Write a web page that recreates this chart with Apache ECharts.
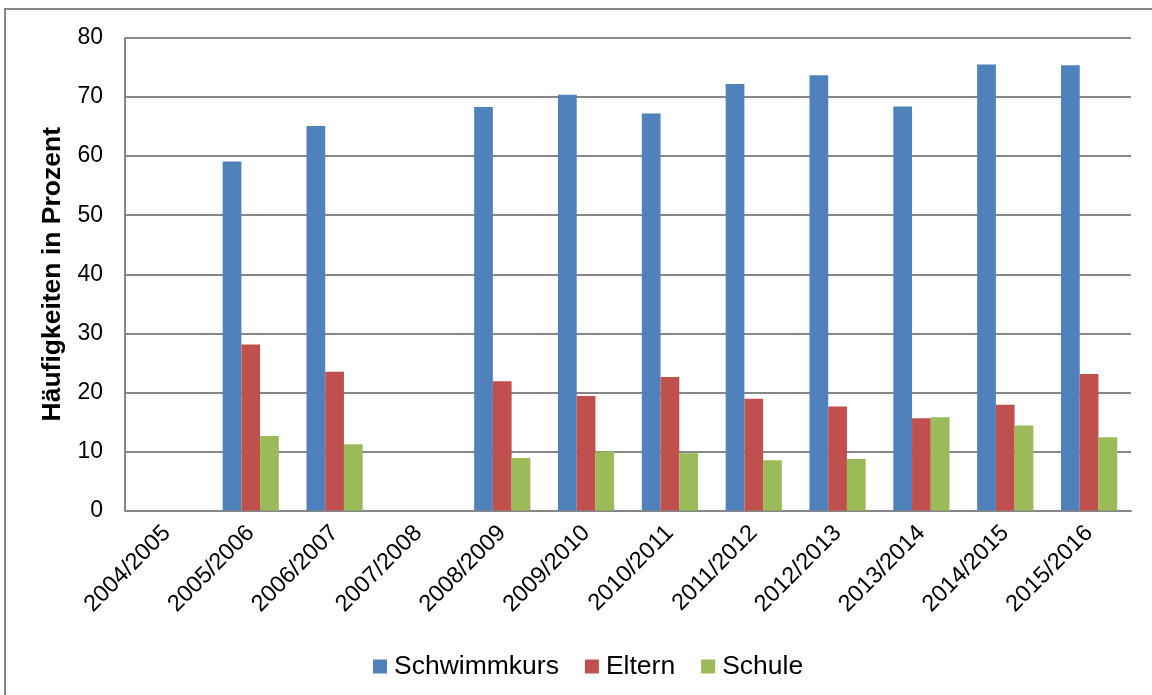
<!DOCTYPE html>
<html>
<head>
<meta charset="utf-8">
<script src="https://cdn.jsdelivr.net/npm/echarts@6/dist/echarts.min.js"></script>
<style>
  html, body { margin: 0; padding: 0; background: #fff; }
  #chart { width: 1152px; height: 695px; }
</style>
</head>
<body>
<div id="chart"></div>
<script>
// School years (x axis)
const years = ['2004/2005', '2005/2006', '2006/2007', '2007/2008', '2008/2009', '2009/2010',
               '2010/2011', '2011/2012', '2012/2013', '2013/2014', '2014/2015', '2015/2016'];

// Where children learned to swim, share in percent (no survey in 2004/05 and 2007/08)
const schwimmkurs = [null, 59.1, 65.1, null, 68.3, 70.4, 67.2, 72.2, 73.7, 68.4, 75.5, 75.4];
const eltern      = [null, 28.1, 23.5, null, 21.9, 19.4, 22.6, 18.9, 17.6, 15.6, 17.9, 23.1];
const schule      = [null, 12.6, 11.2, null,  8.9, 10.0,  9.7,  8.5,  8.7, 15.8, 14.4, 12.4];

const seriesNames = ['Schwimmkurs', 'Eltern', 'Schule'];
const seriesColors = ['#4F81BD', '#C0504D', '#9BBB59'];
const seriesData = [schwimmkurs, eltern, schule];

const yTicks = { min: 0, max: 80, interval: 10 };
const font = '"Liberation Sans", Arial, sans-serif';

const chart = echarts.init(document.getElementById('chart'), null, { renderer: 'canvas' });

chart.setOption({
  animation: false,
  backgroundColor: '#ffffff',
  graphic: [{
    type: 'rect',
    shape: { x: 5, y: 9, width: 1200, height: 720 },
    style: { fill: 'none', stroke: '#878787', lineWidth: 2 },
    silent: true,
    z: -1
  }],
  grid: { left: 125, right: 21, top: 38, bottom: 184.5, containLabel: false },
  legend: {
    data: seriesNames,
    top: 648,
    left: 368,
    itemWidth: 14,
    itemHeight: 14,
    itemGap: 26,
    icon: 'rect',
    textStyle: { fontFamily: font, fontSize: 26.5, color: '#000', padding: [0, 0, 0, 2] }
  },
  xAxis: {
    type: 'category',
    data: years,
    boundaryGap: true,
    axisLine: { show: true, lineStyle: { color: '#878787', width: 2 } },
    axisTick: { show: false },
    axisLabel: {
      rotate: 45,
      interval: 0,
      margin: 19,
      fontFamily: font,
      fontSize: 23.5,
      color: '#000'
    }
  },
  yAxis: {
    type: 'value',
    min: yTicks.min,
    max: yTicks.max,
    interval: yTicks.interval,
    name: 'Häufigkeiten in Prozent',
    nameLocation: 'middle',
    nameGap: 57,
    nameTextStyle: { fontFamily: font, fontSize: 26.5, fontWeight: 'bold', color: '#000' },
    axisLine: { show: true, lineStyle: { color: '#878787', width: 2 } },
    axisTick: { show: false },
    axisLabel: { margin: 22, fontFamily: font, fontSize: 23, color: '#000' },
    splitLine: { show: true, lineStyle: { color: '#878787', width: 2 } }
  },
  series: seriesData.map((d, i) => ({
    name: seriesNames[i],
    type: 'bar',
    data: d,
    barGap: '0%',
    barCategoryGap: '33%',
    itemStyle: { color: seriesColors[i] }
  }))
});
</script>
</body>
</html>
